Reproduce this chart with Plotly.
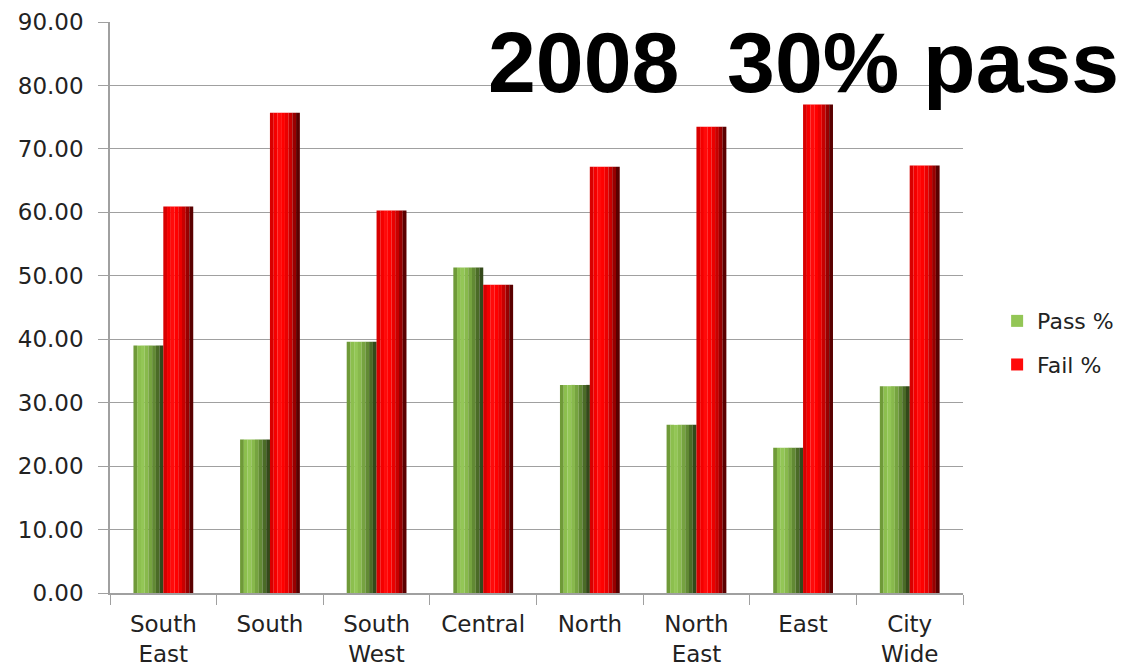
import plotly.graph_objects as go

categories = ["South<br>East", "South", "South<br>West", "Central", "North", "North<br>East", "East", "City<br>Wide"]
pass_pct = [39.0, 24.2, 39.6, 51.3, 32.8, 26.5, 22.9, 32.6]
fail_pct = [60.9, 75.7, 60.3, 48.6, 67.2, 73.5, 77.0, 67.4]
y_ticks = [0, 10, 20, 30, 40, 50, 60, 70, 80, 90]

# horizontal shading profiles (left -> right) to mimic the cylindrical bars
green_shades = ["#6f9a38", "#8cbf4e", "#93c656", "#88b94c", "#76a340", "#628a34", "#4b6b27", "#33491a"]
red_shades = ["#d80000", "#f50000", "#ff0a0a", "#ff0000", "#ea0000", "#c80000", "#980000", "#5a0000"]

BAR_W = 0.28
fig = go.Figure()

def add_series(values, shades, name, start):
    n = len(shades)
    sw = BAR_W / n
    for i, c in enumerate(shades):
        fig.add_trace(go.Bar(
            x=categories, y=values, name=name,
            marker=dict(color=c, line=dict(width=0)),
            width=sw * 1.02, offset=start + i * sw,
            legendgroup=name, showlegend=(i == 2),
            hoverinfo="skip" if i != 2 else None,
        ))

add_series(pass_pct, green_shades, "Pass %", -BAR_W)
add_series(fail_pct, red_shades, "Fail %", 0.0)

fig.update_layout(
    width=1127, height=669,
    margin=dict(l=102, r=172, t=14, b=84),
    barmode="overlay",
    paper_bgcolor="white", plot_bgcolor="white",
    font=dict(family="DejaVu Sans, sans-serif", size=20, color="#222222"),
    showlegend=True,
    legend=dict(x=1.04, y=0.513, xanchor="left", yanchor="top",
                font=dict(size=22, family="DejaVu Sans, sans-serif", color="#222222"),
                traceorder="grouped", tracegroupgap=12,
                bgcolor="rgba(0,0,0,0)"),
    xaxis=dict(
        tickson="boundaries", ticks="outside", ticklen=10, tickcolor="#a0a0a0",
        showline=True, linecolor="#a0a0a0", linewidth=1.5,
        showgrid=False, automargin=False, ticklabelstandoff=10,
        tickfont=dict(size=23, family="DejaVu Sans, sans-serif", color="#222222"),
        range=[-0.5, 7.5],
    ),
    yaxis=dict(
        range=[0, 90], tickvals=y_ticks, tickformat=".2f",
        ticks="outside", ticklen=10, tickcolor="#a0a0a0",
        showline=True, linecolor="#a0a0a0", linewidth=1.5,
        showgrid=True, gridcolor="#a0a0a0", gridwidth=1.2,
        automargin=False, ticklabelstandoff=10, ticklabeloverflow="allow",
        tickfont=dict(size=23, family="DejaVu Sans, sans-serif", color="#222222"),
        zeroline=False,
    ),
    annotations=[dict(
        text="<b>2008  30% pass</b>", xref="paper", yref="paper",
        x=1.0 + (1121 - 963) / 853, y=1.018, xanchor="right", yanchor="top",
        showarrow=False, font=dict(family="Liberation Sans, Arial, sans-serif", size=86, color="black"),
    )],
)

fig.write_html("out.html")
